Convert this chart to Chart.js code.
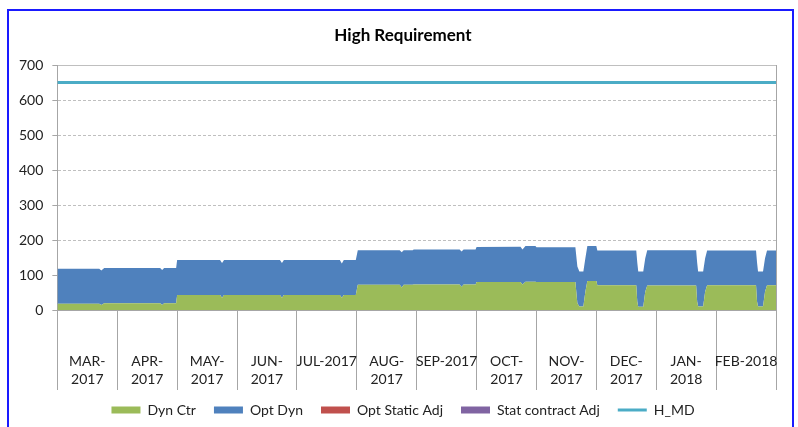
<!DOCTYPE html>
<html><head><meta charset="utf-8">
<script src="https://cdn.jsdelivr.net/npm/chart.js@4.4.1/dist/chart.umd.min.js"></script>
<style>
html,body{margin:0;padding:0;background:#fff;overflow:hidden;width:798px;height:427px;}
#frame{position:absolute;left:7px;top:9px;width:783px;height:460px;border:2px solid #1a1aff;}
#c{position:absolute;left:0;top:0;}
</style></head><body>
<div id="frame"></div>
<canvas id="c" width="798" height="440"></canvas>
<script>
const chartTitle = 'High Requirement';
const monthLabels = [['MAR-','2017'],['APR-','2017'],['MAY-','2017'],['JUN-','2017'],'JUL-2017',['AUG-','2017'],'SEP-2017',['OCT-','2017'],['NOV-','2017'],['DEC-','2017'],['JAN-','2018'],'FEB-2018'];
// day index (30 per month, starting 1 Mar 2017) at each reading
const dayIndex = [0,21,22,23.5,51.5,52.5,53.5,59.5,60,81.5,82.5,83.5,111.5,112.5,113.5,141.5,142.5,143.5,149.5,150.5,171.5,172.5,173.5,178,178.5,201.5,202.5,203.5,209.5,210,232,233,234.5,239.5,240,259.5,260.5,261.5,263.5,264.5,265.5,270,270.5,290,290.5,291,293.5,294.5,295.5,299.5,320,320.5,321,323.5,324.5,325.5,350,350.5,351,353.5,354.5,355.5,360];
const dynCtr = [18,18,14,19,19,14,19,19,43,43,35,43,43,35,43,43,35,43,43,72,72,64,72,72,73,73,66,73,73,80,80,73,81,81,80,80,19,10,10,52,83,83,71,71,24,9,9,52,70,70,70,24,10,10,52,71,71,24,10,10,52,71,71];
const optDyn = [100,100,99,101,101,100,101,101,100,100,99,100,100,99,100,100,98,100,100,99,99,101,99,99,100,100,101,100,100,100,101,100,102,102,99,99,105,100,100,96,100,100,99,99,112,101,101,96,101,101,101,112,100,100,96,99,99,112,100,100,96,99,99];
const optStaticAdj = [];
const statContractAdj = [];
const hmdDays = [0,360];
const hmdValues = [650,650];
const yMin = 0, yMax = 700, yStep = 100;

const pts = (xs, ys) => xs.map((d,i)=>({x:d, y:ys[i]}));
const FONT = 'Lato';
const AXIS = '#A6A6A6';

new Chart(document.getElementById('c'), {
  type: 'line',
  data: { datasets: [
    {label:'Dyn Ctr', data: pts(dayIndex, dynCtr), backgroundColor:'#9BBB59', borderColor:'rgba(0,0,0,0)', borderWidth:0, fill:'origin', pointRadius:0, pointStyle:'rect', stack:'s', tension:0},
    {label:'Opt Dyn', data: pts(dayIndex, optDyn), backgroundColor:'#4F81BD', borderColor:'rgba(0,0,0,0)', borderWidth:0, fill:'-1', pointRadius:0, pointStyle:'rect', stack:'s', tension:0},
    {label:'Opt Static Adj', data: optStaticAdj, backgroundColor:'#C0504D', borderColor:'rgba(0,0,0,0)', borderWidth:0, fill:'-1', pointRadius:0, pointStyle:'rect', stack:'s'},
    {label:'Stat contract Adj', data: statContractAdj, backgroundColor:'#8064A2', borderColor:'rgba(0,0,0,0)', borderWidth:0, fill:'-1', pointRadius:0, pointStyle:'rect', stack:'s'},
    {label:'H_MD', data: pts(hmdDays, hmdValues), backgroundColor:'#4BACC6', borderColor:'#4BACC6', borderWidth:3, fill:false, pointRadius:0, pointStyle:'line', stack:'md'}
  ]},
  options: {
    responsive:false, animation:false, devicePixelRatio:1,
    layout:{padding:{left:10, right:2, top:0, bottom:13}},
    plugins:{
      title:{display:true, text: chartTitle, color:'#000', font:{family:FONT, size:17, weight:'bold', lineHeight:1.2}, padding:{top:25, bottom:19.6}},
      legend:{position:'bottom', labels:{usePointStyle:true, pointStyleWidth:29, boxHeight:7, padding:18, color:'#222', font:{family:FONT, size:14}}},
      tooltip:{enabled:false}
    },
    scales:{
      x:{type:'linear', min:0, max:360, display:false},
      xm:{type:'category', labels: monthLabels, position:'bottom', offset:true,
          grid:{offset:true, drawOnChartArea:false, tickLength:80, color:AXIS},
          border:{color:AXIS},
          ticks:{autoSkip:false, maxRotation:0, minRotation:0, padding:-37.4, color:'#222', font:{family:FONT, size:14, lineHeight:1.3}},
          afterFit: s => { s.height = 75; }},
      y:{type:'linear', stacked:true, min:yMin, max:yMax,
          ticks:{stepSize:yStep, padding:9, color:'#222', font:{family:FONT, size:14}},
          grid:{color:'#BFBFBF', tickLength:5, tickColor:AXIS, tickBorderDash:[]},
          border:{color:AXIS, dash: ctx => (ctx.tick && (ctx.tick.value===yMin || ctx.tick.value===yMax)) ? [] : [3,2]}},
      yr:{type:'linear', axis:'y', position:'right', display:true, grid:{display:false}, ticks:{display:false}, border:{color:AXIS}, afterFit: s => { s.width = 20; }}
    }
  }
});
</script>
</body></html>
